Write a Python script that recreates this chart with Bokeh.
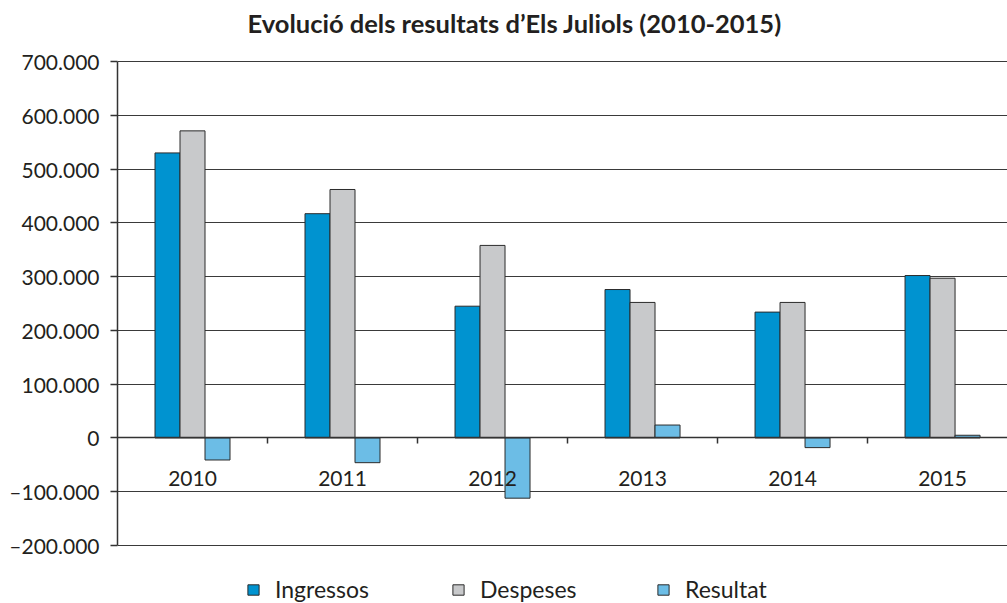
from bokeh.plotting import figure
from bokeh.models import ColumnDataSource, FixedTicker, Legend, LegendItem, Range1d, Label
from bokeh.transform import dodge
from bokeh.core.properties import value
from bokeh.embed import file_html
from bokeh.resources import INLINE

# ---- data ----
years = ["2010", "2011", "2012", "2013", "2014", "2015"]
ingressos = [530000, 417000, 245000, 276000, 234000, 302000]
despeses = [571000, 462000, 358000, 252000, 252000, 297000]
resultat = [-41000, -46000, -112000, 24000, -18000, 5000]
series_names = ["Ingressos", "Despeses", "Resultat"]
y_ticks = [-200000, -100000, 0, 100000, 200000, 300000, 400000, 500000, 600000, 700000]
y_tick_labels = ["–200.000", "–100.000", "0", "100.000", "200.000", "300.000",
                 "400.000", "500.000", "600.000", "700.000"]
title_text = "Evolució dels resultats d’Els Juliols (2010-2015)"

FONT = "Lato"
TXT = "#231f20"
colors = ["#0093d0", "#c8c9cb", "#6cbde6"]

idx = list(range(len(years)))
src = ColumnDataSource(dict(x=idx, year=years, ing=ingressos, des=despeses, res=resultat,
                            ylab=[-75000] * len(years)))

# frame spans the whole height; the visible value axis is bounded to -200k..700k
p = figure(frame_width=890, frame_height=603, output_backend="svg", toolbar_location=None,
           x_range=Range1d(-0.5, 5.433), y_range=Range1d(-307850, 813430),
           min_border_left=117, min_border_right=0, min_border_top=0,
           min_border_bottom=0)
p.title.visible = False
p.outline_line_color = None
p.background_fill_color = "white"
p.border_fill_color = "white"

w = 25 / 150
r1 = p.vbar(x=dodge("x", -w, range=p.x_range), top="ing", bottom=0, width=w, source=src,
            fill_color=colors[0], line_color="#2b2b2b", line_width=1)
r2 = p.vbar(x=dodge("x", 0, range=p.x_range), top="des", bottom=0, width=w, source=src,
            fill_color=colors[1], line_color="#2b2b2b", line_width=1)
r3 = p.vbar(x=dodge("x", w, range=p.x_range), top="res", bottom=0, width=w, source=src,
            fill_color=colors[2], line_color="#2b2b2b", line_width=1)

# year labels under zero line
p.text(x="x", y="ylab", text="year", source=src, text_align="center",
       text_baseline="middle", text_font=value(FONT), text_font_size="21px",
       text_color=TXT)

# title
p.add_layout(Label(x=130, y=581, x_units="screen", y_units="screen", text=title_text,
                   text_font=FONT, text_font_size="25.5px", text_font_style="bold",
                   text_color=TXT, text_align="left", text_baseline="alphabetic"))

# y axis
yax = p.yaxis[0]
yax.ticker = FixedTicker(ticks=y_ticks)
yax.bounds = (y_ticks[0], y_ticks[-1])
yax.major_label_overrides = {t: l for t, l in zip(y_ticks, y_tick_labels)}
yax.major_label_text_font = FONT
yax.major_label_text_font_size = "21px"
yax.major_label_text_color = TXT
yax.major_tick_out = 7
yax.major_tick_in = 0
yax.minor_tick_out = 0
yax.minor_tick_in = 0
yax.major_label_standoff = 11
yax.axis_line_color = "#333333"
yax.axis_line_width = 1.5
yax.major_tick_line_color = "#333333"
yax.major_tick_line_width = 1.5

# x axis at zero with ticks at category boundaries
bounds = [i + 0.5 for i in idx[:-1]]
xax = p.xaxis[0]
xax.fixed_location = 0
xax.ticker = FixedTicker(ticks=bounds)
xax.major_label_overrides = {b: "" for b in bounds}
xax.major_label_text_font_size = "1px"
xax.major_label_standoff = 0
xax.axis_label_standoff = 0
xax.major_tick_out = 6
xax.major_tick_in = 0
xax.minor_tick_out = 0
xax.minor_tick_in = 0
xax.axis_line_color = "#333333"
xax.axis_line_width = 1.5
xax.major_tick_line_color = "#333333"
xax.major_tick_line_width = 1.5

p.xgrid.grid_line_color = None
p.ygrid.ticker = FixedTicker(ticks=y_ticks)
p.ygrid.grid_line_color = "#3a3a3a"
p.ygrid.grid_line_width = 1.2

legend = Legend(items=[LegendItem(label=n, renderers=[r]) for n, r in zip(series_names, [r1, r2, r3])],
                orientation="horizontal", location=(129, 0))
legend.label_text_font = FONT
legend.label_text_font_size = "23px"
legend.label_text_color = TXT
legend.glyph_width = 14
legend.glyph_height = 13
legend.label_width = 160
legend.label_standoff = 15
legend.spacing = 16
legend.padding = 0
legend.margin = 0
legend.border_line_color = None
legend.background_fill_alpha = 0
p.add_layout(legend, "center")

open("out.html", "w").write(file_html(p, INLINE))
